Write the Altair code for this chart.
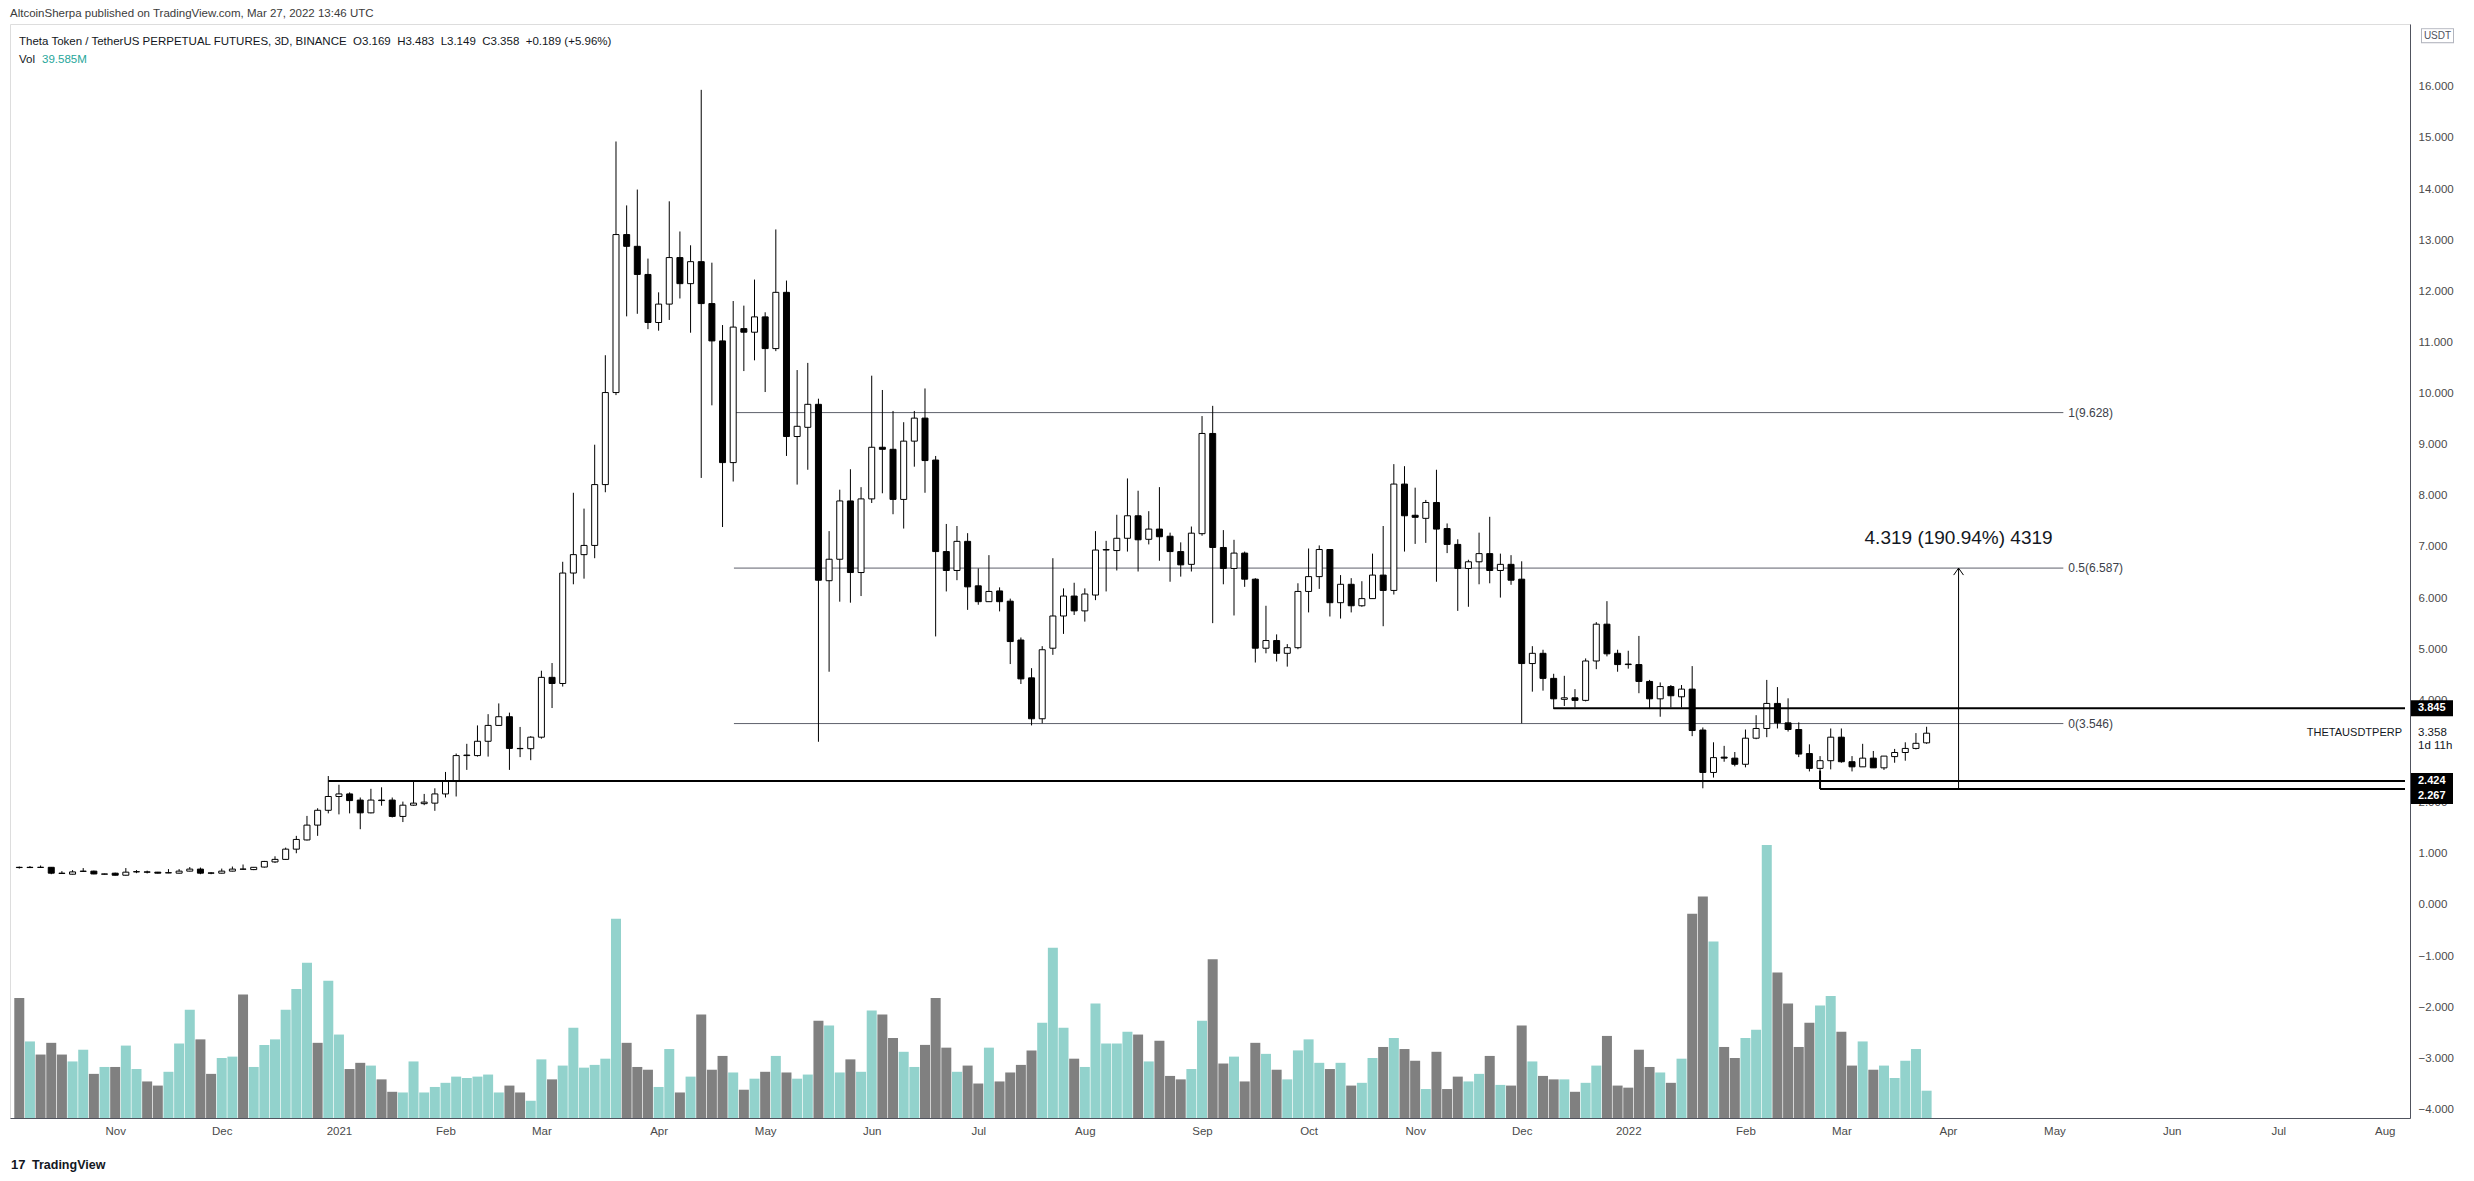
import altair as alt
import pandas as pd
import math

# ---------------- data (3D candles, THETA/USDT perp) ----------------
START = "2020-10-05"          # open time of the first visible 3-day candle

opens = [.735,.73,.735,.735,.62,.60,.655,.66,.60,.62,
         .58,.645,.645,.64,.625,.62,.66,.70,.625,.62,
         .66,.70,.69,.74,.84,.89,1.09,1.27,1.56,1.85,
         2.12,2.17,2.05,1.80,2.05,2.05,1.73,1.95,1.98,1.99,
         2.17,2.43,2.92,2.92,3.20,3.51,3.68,3.06,3.055,3.28,
         4.45,4.33,6.49,6.85,7.03,8.22,10.02,13.11,12.88,12.33,
         11.39,11.75,12.66,12.15,12.58,11.76,11.03,8.65,11.27,11.20,
         11.50,10.88,11.98,9.16,9.34,9.79,6.34,6.76,7.90,6.50,
         7.94,8.95,8.91,7.93,9.07,9.52,8.70,6.91,6.54,7.11,
         6.24,5.93,6.14,5.94,5.18,4.44,3.64,5.02,5.65,6.04,
         5.75,6.06,6.94,6.93,7.17,7.61,7.15,7.35,7.21,6.91,
         6.66,7.26,9.22,6.99,6.58,6.88,6.37,5.02,5.17,4.92,
         5.03,6.13,6.42,6.95,5.91,6.27,5.85,5.99,6.45,6.15,
         8.23,7.62,7.56,7.87,7.36,7.05,6.58,6.71,6.87,6.54,
         6.66,6.37,4.72,4.92,4.43,4.02,4.05,4.00,4.77,5.49,
         4.92,4.71,4.70,4.37,4.03,4.27,4.07,4.22,3.42,2.59,
         2.89,2.87,2.75,3.26,3.45,3.94,3.56,3.43,2.96,2.67,
         2.82,3.28,2.80,2.70,2.87,2.68,2.90,2.98,3.06,3.169]

highs = [.75,.76,.77,.74,.66,.68,.72,.67,.61,.63,
         .72,.68,.67,.645,.70,.70,.74,.73,.64,.71,
         .75,.79,.74,.86,.95,1.12,1.35,1.74,1.89,2.52,
         2.35,2.20,2.10,2.27,2.30,2.10,2.02,2.42,2.17,2.28,
         2.60,2.96,3.15,3.51,3.73,3.94,3.76,3.48,3.30,4.58,
         4.73,6.71,8.06,7.75,9.00,10.75,14.93,13.68,13.99,12.64,
         11.98,13.76,13.17,12.90,15.94,12.56,11.34,11.81,11.72,12.23,
         11.59,13.21,12.21,10.46,10.60,9.90,7.31,8.12,8.52,8.17,
         10.35,10.07,9.66,9.44,9.66,10.10,8.78,7.45,7.41,7.27,
         6.58,6.84,6.21,5.99,5.23,4.63,5.06,6.78,6.19,6.30,
         6.19,7.31,7.12,7.63,8.34,8.10,7.70,8.17,7.28,7.09,
         7.40,9.56,9.76,7.33,7.14,6.91,6.39,5.85,5.29,5.10,
         6.29,6.97,7.03,6.96,6.45,6.39,6.33,6.87,7.41,8.62,
         8.58,8.16,7.92,8.51,7.46,7.15,6.75,7.28,7.59,6.87,
         6.84,6.72,5.06,4.99,4.52,4.48,4.22,4.82,5.53,5.94,
         4.99,4.97,5.26,4.40,4.35,4.30,4.30,4.67,3.47,3.18,
         3.11,2.99,3.43,3.71,4.40,4.26,4.04,3.57,3.14,2.91,
         3.45,3.45,2.91,3.15,3.01,2.91,3.05,3.18,3.36,3.483]

lows = [.71,.72,.725,.60,.605,.595,.645,.60,.595,.575,
        .575,.62,.615,.615,.62,.615,.655,.60,.60,.615,
        .655,.69,.68,.73,.82,.88,1.01,1.26,1.35,1.79,
        1.77,1.79,1.48,1.79,1.94,1.71,1.62,1.94,1.95,1.84,
        2.10,2.12,2.64,2.90,2.90,3.51,2.64,2.89,2.83,3.25,
        3.85,4.27,6.27,6.38,6.78,8.07,9.97,11.51,11.56,11.26,
        11.23,11.44,11.86,11.19,8.35,9.77,7.39,8.28,10.44,10.65,
        10.03,10.83,8.78,8.22,8.51,3.19,4.56,5.93,5.91,6.04,
        7.86,8.05,7.64,7.36,8.57,8.06,5.25,6.13,6.35,5.77,
        5.87,5.93,5.74,4.71,4.32,3.51,3.55,4.89,5.30,5.67,
        5.54,5.96,6.13,6.54,6.91,6.52,7.05,6.73,6.32,6.42,
        6.52,7.22,5.51,6.27,5.66,6.22,4.74,4.92,4.76,4.66,
        5.00,5.72,6.18,5.64,5.60,5.72,5.83,5.99,5.45,6.07,
        6.91,7.06,7.08,6.32,6.88,5.75,5.83,6.27,6.29,6.01,
        6.26,3.55,4.17,4.19,3.83,3.89,3.86,3.98,4.61,4.86,
        4.56,4.62,4.14,3.83,3.68,3.86,3.86,3.30,2.28,2.49,
        2.80,2.71,2.69,3.24,3.28,3.45,3.39,2.89,2.61,2.63,
        2.65,2.78,2.61,2.70,2.68,2.64,2.78,2.82,3.04,3.149]

closes = [.73,.735,.733,.62,.615,.645,.66,.605,.605,.58,
          .64,.65,.64,.62,.63,.66,.70,.62,.62,.66,
          .70,.698,.735,.85,.89,1.09,1.28,1.56,1.85,2.12,
          2.17,2.04,1.80,2.05,2.04,1.73,1.95,1.99,2.01,2.17,
          2.43,2.92,2.93,3.20,3.51,3.68,3.06,3.055,3.28,4.45,
          4.33,6.49,6.85,7.03,8.22,10.02,13.11,12.88,12.33,11.39,
          11.75,12.66,12.15,12.58,11.76,11.03,8.65,11.30,11.20,11.50,
          10.88,11.98,9.16,9.36,9.79,6.35,6.76,7.90,6.50,7.94,
          8.95,8.91,7.93,9.07,9.52,8.69,6.91,6.54,7.11,6.22,
          5.93,6.13,5.93,5.15,4.42,3.64,4.99,5.65,6.04,5.75,
          6.08,6.94,6.95,7.17,7.61,7.14,7.35,7.20,6.91,6.65,
          7.27,9.22,6.99,6.58,6.88,6.37,5.02,5.17,4.92,5.03,
          6.13,6.42,6.95,5.91,6.27,5.85,5.99,6.45,6.15,8.23,
          7.61,7.58,7.87,7.35,7.05,6.58,6.71,6.87,6.54,6.66,
          6.35,4.72,4.92,4.43,4.03,4.05,4.00,4.77,5.49,4.91,
          4.70,4.70,4.37,4.03,4.27,4.09,4.22,3.41,2.59,2.88,
          2.87,2.75,3.26,3.45,3.94,3.56,3.43,2.95,2.67,2.82,
          3.28,2.80,2.70,2.87,2.68,2.91,2.98,3.06,3.16,3.358]

# volume in millions of THETA (last bar = 39.585M)
volumes = [174,111,92,109,92,82,99,64,74,74,
           105,71,53,47,67,108,157,114,64,87,
           89,179,74,106,114,157,187,225,109,199,
           121,71,80,76,56,38,37,82,37,45,
           51,60,58,60,63,37,47,37,25,85,
           56,76,131,73,77,86,289,109,74,70,
           45,100,37,60,150,70,90,66,41,57,
           67,90,66,57,63,141,134,66,85,67,
           156,150,116,96,74,106,174,102,67,76,
           50,102,53,66,77,98,138,247,131,86,
           74,166,108,108,125,121,82,112,61,56,
           71,141,230,79,89,53,109,93,70,56,
           98,114,80,71,80,47,51,87,103,116,
           100,83,42,96,42,60,53,64,90,48,
           47,134,82,61,56,56,38,51,76,119,
           47,44,99,74,66,51,86,296,321,256,
           103,87,116,128,396,211,166,103,138,163,
           177,125,76,111,70,76,58,83,100,39.585]

# volume bar colour as seen (1 = teal/up, 0 = grey/down)
vol_up = [0,1,0,0,0,1,1,0,1,0, 1,1,0,0,1,1,1,0,0,1,
          1,0,1,1,1,1,1,1,0,1, 1,0,0,1,0,0,1,1,1,1,
          1,1,1,1,1,1,0,0,1,1, 0,1,1,1,1,1,1,0,0,0,
          1,1,0,1,0,0,0,1,0,1, 0,1,0,1,1,0,1,1,0,1,
          1,0,0,1,1,0,0,0,1,0, 0,1,0,0,0,0,1,1,1,0,
          1,1,1,1,1,0,1,0,0,0, 1,1,0,0,1,0,0,1,0,1,
          1,1,1,0,1,0,1,1,0,1, 0,0,1,0,0,0,1,1,0,1,
          0,0,1,0,0,1,0,1,1,0, 0,0,0,0,1,0,1,0,0,1,
          0,0,1,1,1,0,0,0,0,1, 1,0,0,1,0,1,1,1,1,1]

# drawings on the chart
fib_levels = ["1", "0.5", "0"]
fib_prices = [9.628, 6.587, 3.546]
fib_start = "2021-04-24T05:00:00"
fib_end = "2022-05-03T12:00:00"

level_prices = [2.424, 3.845, 2.267]
level_starts = ["2020-12-31T00:00:00", "2021-12-11T00:00:00", "2022-02-24T00:00:00"]

measure_date = "2022-04-04T00:00:00"
measure_from, measure_to = 2.267, 6.587
measure_text = "4.319 (190.94%) 4319"

# 3.000 and 17.000 are hidden behind price-scale badges in the reference
price_ticks = [-4, -3, -2, -1, 0, 1, 2, 4, 5, 6, 7, 8, 9, 10, 11, 12, 13, 14, 15, 16]

# ---------------- layout ----------------
W, H = 2400, 1094
P_MIN, P_MAX = -4.168, 17.228
V_MAX = 1586.2
DAYS_PER_PX = 3 / 10.7

start = pd.Timestamp(START)
dom0 = start - pd.Timedelta(days=4.3 * DAYS_PER_PX)
dom1 = dom0 + pd.Timedelta(days=W * DAYS_PER_PX)


def dt(ts):
    return alt.DateTime(year=ts.year, month=ts.month, date=ts.day,
                        hours=ts.hour, minutes=ts.minute)


# month ticks at the first candle of each month (TradingView style)
tick_vals = []
m = pd.Timestamp("2020-11-01")
while m <= pd.Timestamp("2022-08-01"):
    k = math.ceil((m - start) / pd.Timedelta(days=3))
    tick_vals.append(dt(start + pd.Timedelta(days=3 * k)))
    m = m + pd.DateOffset(months=1)

dates = pd.date_range(START, periods=len(opens), freq="3D")
df = pd.DataFrame({
    "date": dates.strftime("%Y-%m-%dT%H:%M:%S"),
    "open": opens, "high": highs, "low": lows, "close": closes,
    "volume": volumes,
    "vdir": ["up" if v else "down" for v in vol_up],
})

FONT = "Liberation Sans"
AX_COL = "#50535e"
TXT = "#4a4a4a"

xscale = alt.Scale(domain=[dt(dom0), dt(dom1)])
xaxis = alt.Axis(values=tick_vals,
                 labelExpr="month(datum.value) == 0 ? timeFormat(datum.value, '%Y') : timeFormat(datum.value, '%b')",
                 ticks=False, grid=False, domainColor=AX_COL, labelColor=TXT,
                 labelFontSize=11.5, labelPadding=7, title=None, labelOverlap=False,
                 labelFont=FONT)
yscale = alt.Scale(domain=[P_MIN, P_MAX], nice=False, zero=False)
yaxis = alt.Axis(orient="right", values=price_ticks, format=".3f", ticks=False, grid=False,
                 domainColor=AX_COL, labelColor=TXT, labelFontSize=11.5, labelPadding=8,
                 title=None, labelOverlap=False, labelFont=FONT)


def X(field="date"):
    return alt.X(f"{field}:T", scale=xscale, axis=xaxis)


def Y(field):
    return alt.Y(f"{field}:Q", scale=yscale, axis=yaxis)


# volume
vol = alt.Chart(df).mark_bar(size=10).encode(
    x=X(),
    y=alt.Y("volume:Q", scale=alt.Scale(domain=[0, V_MAX], nice=False), axis=None),
    color=alt.Color("vdir:N", scale=alt.Scale(domain=["up", "down"], range=["#92d2cc", "#808080"]),
                    legend=None),
)

# fib retracement
fib_df = pd.DataFrame({"price": fib_prices, "start": fib_start, "end": fib_end,
                       "label": [f"{l}({p})" for l, p in zip(fib_levels, fib_prices)]})
fib_rules = alt.Chart(fib_df).mark_rule(color="#5d606b", strokeWidth=1).encode(
    x=X("start"), x2="end:T", y=Y("price"))
fib_text = alt.Chart(fib_df).mark_text(align="left", baseline="middle", dx=5, fontSize=12,
                                       color="#3c3f4a", font=FONT).encode(
    x=X("end"), y=Y("price"), text="label:N")

# candles
wicks = alt.Chart(df).mark_rule(color="black", strokeWidth=1).encode(
    x=X(), y=Y("low"), y2="high:Q")
bodies = alt.Chart(df).mark_bar(size=6, stroke="black", strokeWidth=1).encode(
    x=X(), y=Y("open"), y2="close:Q",
    fill=alt.condition("datum.close >= datum.open", alt.value("white"), alt.value("black")))

# horizontal levels
lv_df = pd.DataFrame({"price": level_prices, "start": level_starts,
                      "end": dom1.strftime("%Y-%m-%dT%H:%M:%S")})
lv_rules = alt.Chart(lv_df).mark_rule(color="black", strokeWidth=2).encode(
    x=X("start"), x2="end:T", y=Y("price"))
conn_df = pd.DataFrame({"date": [level_starts[2]], "a": [level_prices[2]], "b": [lows[169]]})
conn = alt.Chart(conn_df).mark_rule(color="black", strokeWidth=2).encode(
    x=X(), y=Y("a"), y2="b:Q")

# measurement arrow
ms_df = pd.DataFrame({"date": [measure_date], "a": [measure_from], "b": [measure_to],
                      "t": [measure_text]})
ms_rule = alt.Chart(ms_df).mark_rule(color="black", strokeWidth=1).encode(
    x=X(), y=Y("a"), y2="b:Q")
ms_head = alt.Chart(ms_df).mark_point(shape="M-0.7,1L0,0L0.7,1", filled=False, size=196,
                                      stroke="black", strokeWidth=1, opacity=1).encode(
    x=X(), y=Y("b"))
ms_text = alt.Chart(ms_df).mark_text(fontSize=19, baseline="middle", dy=-30, color="#131722",
                                     font=FONT).encode(x=X(), y=Y("b"), text="t:N")

# price-scale badges (the lowest one is pushed down a few px as TradingView does)
box_df = pd.DataFrame({"price": [3.845, 2.424], "t": ["3.845", "2.424"]})
box2_df = pd.DataFrame({"price": [2.267], "t": ["2.267"]})
boxes = alt.Chart(box_df).mark_rule(color="black", strokeWidth=16).encode(
    x=alt.value(W + 1), x2=alt.value(W + 43), y=Y("price"))
boxes2 = alt.Chart(box2_df).mark_rule(color="black", strokeWidth=16, yOffset=7).encode(
    x=alt.value(W + 1), x2=alt.value(W + 43), y=Y("price"))
box_text = alt.Chart(box_df).mark_text(align="left", baseline="middle", color="white",
                                       fontWeight="bold", fontSize=11, font=FONT).encode(
    x=alt.value(W + 8), y=Y("price"), text="t:N")
box2_text = alt.Chart(box2_df).mark_text(align="left", baseline="middle", color="white", dy=7,
                                         fontWeight="bold", fontSize=11, font=FONT).encode(
    x=alt.value(W + 8), y=Y("price"), text="t:N")

cur_df = pd.DataFrame({"price": [closes[-1]], "p": [f"{closes[-1]:.3f}"], "c": ["1d 11h"],
                       "s": ["THETAUSDTPERP"]})
cur_p = alt.Chart(cur_df).mark_text(align="left", baseline="middle", dy=0, color="#131722",
                                    fontSize=11.5, font=FONT).encode(
    x=alt.value(W + 8), y=Y("price"), text="p:N")
cur_c = alt.Chart(cur_df).mark_text(align="left", baseline="middle", dy=13, color="#131722",
                                    fontSize=11.5, font=FONT).encode(
    x=alt.value(W + 8), y=Y("price"), text="c:N")
cur_s = alt.Chart(cur_df).mark_text(align="right", baseline="middle", color="#131722",
                                    fontSize=11, font=FONT).encode(
    x=alt.value(W - 8), y=Y("price"), text="s:N")

usdt_df = pd.DataFrame({"price": [17.0], "t": ["USDT"]})
usdt_b = alt.Chart(usdt_df).mark_rule(color="#b2b5be", strokeWidth=15).encode(
    x=alt.value(W + 11), x2=alt.value(W + 44), y=Y("price"))
usdt_w = alt.Chart(usdt_df).mark_rule(color="white", strokeWidth=13).encode(
    x=alt.value(W + 12), x2=alt.value(W + 43), y=Y("price"))
usdt_t = alt.Chart(usdt_df).mark_text(align="center", baseline="middle", color="#50535e",
                                      fontSize=10, font=FONT).encode(
    x=alt.value(W + 27.5), y=Y("price"), text="t:N")

# header texts
legend_line = ("Theta Token / TetherUS PERPETUAL FUTURES, 3D, BINANCE\u00a0\u00a0"
               f"O{opens[-1]}\u00a0\u00a0H{highs[-1]}\u00a0\u00a0L{lows[-1]}\u00a0\u00a0"
               f"C{closes[-1]}\u00a0\u00a0+0.189 (+5.96%)")
hdr_df = pd.DataFrame({"t": ["AltcoinSherpa published on TradingView.com, Mar 27, 2022 13:46 UTC"]})
hdr = alt.Chart(hdr_df).mark_text(align="left", baseline="middle", fontSize=11.5,
                                  color="#3b3b3b", font=FONT).encode(
    x=alt.value(0), y=alt.value(-10), text="t:N")
leg_df = pd.DataFrame({"t": [legend_line]})
leg = alt.Chart(leg_df).mark_text(align="left", baseline="middle", fontSize=11.5,
                                  color="#131722", font=FONT).encode(
    x=alt.value(9), y=alt.value(18), text="t:N")
vol_lbl = alt.Chart(pd.DataFrame({"t": ["Vol"]})).mark_text(
    align="left", baseline="middle", fontSize=11.5, color="#131722", font=FONT).encode(
    x=alt.value(9), y=alt.value(36), text="t:N")
vol_val = alt.Chart(pd.DataFrame({"t": [f"{volumes[-1]}M"]})).mark_text(
    align="left", baseline="middle", fontSize=11.5, color="#26a69a", font=FONT).encode(
    x=alt.value(32), y=alt.value(36), text="t:N")
logo = alt.Chart(pd.DataFrame({"t": ["17"]})).mark_text(
    align="left", baseline="middle", fontSize=13, fontWeight="bold", color="#131722",
    font=FONT).encode(x=alt.value(1), y=alt.value(H + 47), text="t:N")
brand = alt.Chart(pd.DataFrame({"t": ["TradingView"]})).mark_text(
    align="left", baseline="middle", fontSize=12.5, fontWeight="bold", color="#131722",
    font=FONT).encode(x=alt.value(22), y=alt.value(H + 47), text="t:N")

price_layer = alt.layer(
    fib_rules, fib_text, wicks, bodies, lv_rules, conn, ms_rule, ms_head, ms_text,
    cur_s, boxes, boxes2, box_text, box2_text, cur_p, cur_c, usdt_b, usdt_w, usdt_t,
    hdr, leg, vol_lbl, vol_val, logo, brand,
)

chart = alt.layer(vol, price_layer).resolve_scale(y="independent").properties(
    width=W, height=H,
    autosize=alt.AutoSizeParams(type="none"),
    padding={"left": 2, "top": 16, "right": 56, "bottom": 55},
    background="white",
).configure_view(stroke="#e0e3eb", strokeWidth=1).configure(font=FONT)

chart.save("out.html", embed_options={"renderer": "svg", "actions": False})
